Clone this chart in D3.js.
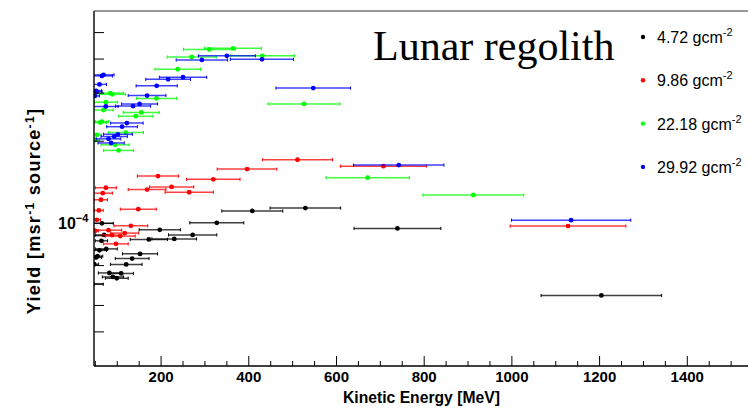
<!DOCTYPE html>
<html>
<head>
<meta charset="utf-8">
<script src="https://cdn.jsdelivr.net/npm/d3@7"></script>
<style>
  html, body { margin: 0; padding: 0; background: #fff; }
  svg { display: block; }
</style>
</head>
<body>
<svg id="chart" width="748" height="408"></svg>
<script>
// Yield vs kinetic energy for four lunar regolith depths
const seriesLabels = ["4.72", "9.86", "22.18", "29.92"];
const seriesColors = ["#000000", "#ff0000", "#00ff00", "#0000ff"];

// 4.72 g/cm2
const energy472 = [1204, 529, 739, 408, 327, 197, 272, 230, 172, 70, 64, 59.5, 75, 152, 134, 55, 52, 120.5, 47.5, 82, 109, 90, 99, 44, 65];
const err472    = [137.5, 80.5, 99, 69.5, 61.6, 47, 55, 51, 42.5, 20, 14, 16, 25, 40, 38.5, 12, 12, 36, 10, 25, 28, 24, 26, 24, 26];
const yield472  = [0.544e-4, 1.137e-4, 0.958e-4, 1.11e-4, 1.004e-4, 0.947e-4, 0.907e-4, 0.877e-4, 0.873e-4, 0.907e-4, 0.863e-4, 0.796e-4, 0.806e-4, 0.773e-4, 0.743e-4, 0.758e-4, 0.75e-4, 0.707e-4, 0.708e-4, 0.658e-4, 0.655e-4, 0.636e-4, 0.629e-4, 0.598e-4, 1.0e-4];

// 9.86 g/cm2
const energy986 = [511, 707, 1128, 396, 193, 319, 224, 168, 264, 74, 67, 62.7, 58, 148, 53.6, 131, 80, 49.7, 117, 107, 88, 97];
const err986    = [80, 98, 132, 68, 47, 61, 50.5, 43, 55, 24, 22, 15, 10, 41, 8, 38.5, 30, 8, 32, 34, 22, 28];
const yield986  = [1.71e-4, 1.62e-4, 0.977e-4, 1.58e-4, 1.49e-4, 1.45e-4, 1.36e-4, 1.33e-4, 1.30e-4, 1.35e-4, 1.29e-4, 1.22e-4, 1.115e-4, 1.127e-4, 1.03e-4, 0.979e-4, 0.944e-4, 0.939e-4, 0.921e-4, 0.898e-4, 0.905e-4, 0.841e-4];

// 22.18 g/cm2
const energy2218 = [310, 364, 270, 431, 238, 189.5, 154.6, 142.5, 74, 68.7, 65, 61, 84, 89, 119.7, 95, 103, 53.6, 50, 912, 671, 526];
const err2218    = [59, 64.5, 56, 73, 52, 46, 41, 39, 26, 22, 15, 14, 30, 30, 40, 32, 34, 10, 10, 115, 95, 82];
const yield2218  = [4.34e-4, 4.38e-4, 4.07e-4, 4.11e-4, 3.67e-4, 2.87e-4, 2.55e-4, 2.47e-4, 2.78e-4, 2.6e-4, 2.36e-4, 2.34e-4, 3.0e-4, 2.97e-4, 2.15e-4, 1.94e-4, 1.85e-4, 2.11e-4, 2.02e-4, 1.27e-4, 1.47e-4, 2.74e-4];

// 29.92 g/cm2
const energy2992 = [547, 350, 430, 293, 250, 216, 190, 168, 151, 136, 74, 68.7, 65, 59.5, 52, 53.6, 49, 122, 111, 101.5, 93, 80, 86, 1135, 742];
const err2992    = [85, 65, 72, 58.6, 54, 51, 47, 43, 41, 40, 28, 24, 24, 16, 12, 12, 10, 37, 35, 33, 30, 28, 30, 136, 103];
const yield2992  = [3.13e-4, 4.11e-4, 3.99e-4, 3.97e-4, 3.43e-4, 3.37e-4, 3.19e-4, 2.94e-4, 2.74e-4, 2.69e-4, 2.68e-4, 3.5e-4, 3.47e-4, 3.23e-4, 3.06e-4, 3.04e-4, 2.93e-4, 2.33e-4, 2.26e-4, 2.12e-4, 2.08e-4, 2.04e-4, 1.97e-4, 1.027e-4, 1.635e-4];

const xMajorTicks = [200, 400, 600, 800, 1000, 1200, 1400];
const xMinorTicks = d3.range(50, 1551, 50);
const yTickValues = [4e-5, 5e-5, 6e-5, 7e-5, 8e-5, 9e-5, 1e-4, 2e-4, 3e-4, 4e-4, 5e-4];

const series = [
  { energy: energy472,  err: err472,  yield: yield472 },
  { energy: energy986,  err: err986,  yield: yield986 },
  { energy: energy2218, err: err2218, yield: yield2218 },
  { energy: energy2992, err: err2992, yield: yield2992 }
].map((s, i) => ({
  label: seriesLabels[i],
  color: seriesColors[i],
  points: s.energy.map((e, j) => ({ e, de: s.err[j], y: s.yield[j] }))
}));

const svg = d3.select("#chart");
const padLeft = 94, padTop = 11, axisY = 366;
const x = d3.scaleLinear().domain([47, 1560]).range([padLeft, padLeft + (1560 - 47) * 0.4385]);
const y = d3.scaleLog().domain([3e-5, 6e-4]).range([axisY, padTop]);

svg.append("defs").append("clipPath").attr("id", "plotclip")
  .append("rect").attr("x", padLeft).attr("y", padTop).attr("width", 748 - padLeft).attr("height", axisY - padTop);

// data
const plot = svg.append("g").attr("clip-path", "url(#plotclip)");
series.forEach(s => {
  const g = plot.append("g");
  s.points.forEach(p => {
    const x0 = x(p.e - p.de), x1 = x(p.e + p.de), yy = y(p.y);
    g.append("line").attr("x1", x0).attr("x2", x1).attr("y1", yy).attr("y2", yy)
      .attr("stroke", s.color).attr("stroke-width", 1.5).attr("stroke-opacity", 0.75);
    [x0, x1].forEach(cx => g.append("line").attr("x1", cx).attr("x2", cx)
      .attr("y1", yy - 1.6).attr("y2", yy + 1.6).attr("stroke", s.color).attr("stroke-width", 1));
    g.append("circle").attr("cx", x(p.e)).attr("cy", yy).attr("r", 2.4).attr("fill", s.color);
  });
});

// frame
svg.append("line").attr("x1", padLeft).attr("x2", 748).attr("y1", padTop).attr("y2", padTop)
  .attr("stroke", "#333").attr("stroke-width", 1.2);

// x axis
const xAxis = svg.append("g");
xAxis.append("line").attr("x1", padLeft).attr("x2", 748).attr("y1", axisY).attr("y2", axisY)
  .attr("stroke", "#000").attr("stroke-width", 1.4);
xMinorTicks.filter(v => x(v) > padLeft && x(v) < 748).forEach(v => {
  const major = v % 200 === 0;
  xAxis.append("line").attr("x1", x(v)).attr("x2", x(v)).attr("y1", axisY).attr("y2", axisY - (major ? 10 : 5))
    .attr("stroke", "#000").attr("stroke-width", 1);
});
xAxis.selectAll("text.tl").data(xMajorTicks).join("text")
  .attr("x", d => x(d)).attr("y", 382).attr("text-anchor", "middle")
  .attr("font-family", "Liberation Sans, Arial, sans-serif").attr("font-weight", "bold")
  .attr("font-size", 15).text(d => d);
svg.append("text").attr("x", 343).attr("y", 403)
  .attr("font-family", "Liberation Sans, Arial, sans-serif").attr("font-weight", "bold")
  .attr("font-size", 15.7).text("Kinetic Energy [MeV]");

// y axis
const yAxis = svg.append("g");
yAxis.append("line").attr("x1", padLeft).attr("x2", padLeft).attr("y1", padTop).attr("y2", axisY)
  .attr("stroke", "#000").attr("stroke-width", 1.4);
yTickValues.forEach(v => {
  const major = Math.abs(Math.log10(v) - Math.round(Math.log10(v))) < 1e-9;
  yAxis.append("line").attr("x1", padLeft).attr("x2", padLeft + (major ? 20 : 10))
    .attr("y1", y(v)).attr("y2", y(v)).attr("stroke", "#000").attr("stroke-width", 1);
});
const pow = yAxis.append("text").attr("x", 58).attr("y", y(1e-4) + 6)
  .attr("font-family", "Liberation Sans, Arial, sans-serif").attr("font-weight", "bold").attr("font-size", 16);
pow.append("tspan").text("10");
pow.append("tspan").attr("dy", -7).attr("font-size", 11).text("\u22124");

const yl = svg.append("text").attr("transform", "translate(40,211) rotate(-90)")
  .attr("text-anchor", "middle").attr("letter-spacing", 1.3)
  .attr("font-family", "Liberation Sans, Arial, sans-serif").attr("font-weight", "bold").attr("font-size", 18);
yl.append("tspan").text("Yield [msr");
yl.append("tspan").attr("dy", -6).attr("font-size", 12).text("-1");
yl.append("tspan").attr("dy", 6).text(" source");
yl.append("tspan").attr("dy", -6).attr("font-size", 12).text("-1");
yl.append("tspan").attr("dy", 6).text("]");

// title
svg.append("text").attr("x", 373).attr("y", 60)
  .attr("font-family", "Liberation Serif, Times New Roman, serif").attr("font-size", 42)
  .text("Lunar regolith");

// legend
const legend = svg.append("g");
series.forEach((s, i) => {
  const ly = 37 + i * 43.3;
  legend.append("circle").attr("cx", 643).attr("cy", ly).attr("r", 2.2).attr("fill", s.color);
  const t = legend.append("text").attr("x", 657).attr("y", ly + 6)
    .attr("font-family", "Liberation Sans, Arial, sans-serif").attr("font-size", 16);
  t.append("tspan").text(s.label + " gcm");
  t.append("tspan").attr("dy", -7).attr("font-size", 11).text("-2");
});
</script>
</body>
</html>
